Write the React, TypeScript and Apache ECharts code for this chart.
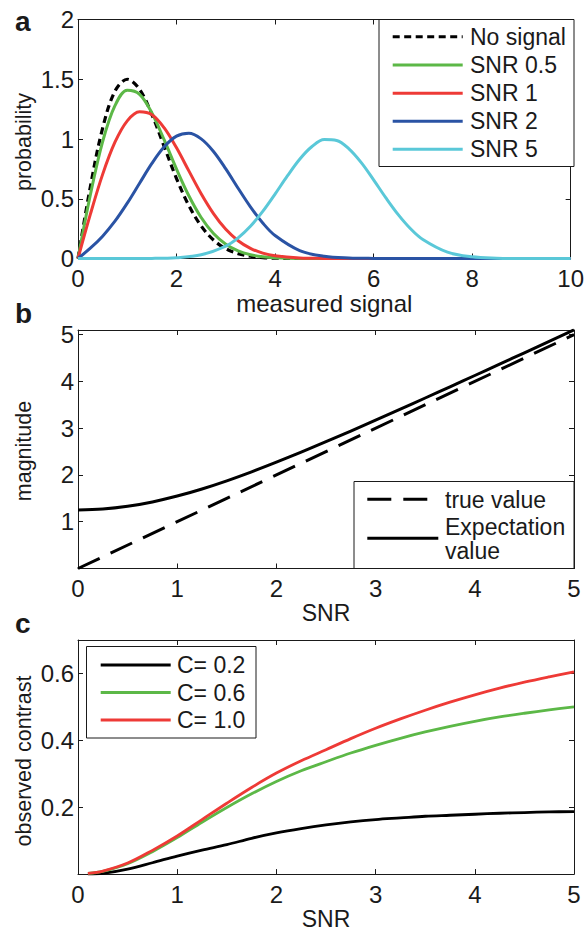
import React, { useEffect, useRef } from "react";
import * as echarts from "echarts";

// ---- Panel a: probability of the measured signal for several SNRs ----
const SIGNAL_X = [0, 0.25, 0.5, 0.75, 1, 1.25, 1.5, 1.75, 2, 2.25, 2.5, 2.75, 3, 3.25, 3.5, 3.75, 4, 4.5, 5, 5.5, 6, 7, 8, 10];
const NO_SIGNAL = [0, 0.599, 1.091, 1.4, 1.5, 1.415, 1.204, 0.936, 0.669, 0.443, 0.272, 0.155, 0.082, 0.041, 0.019, 0.008, 0.003, 0, 0, 0, 0, 0, 0, 0];
const SNR_05 = [0, 0.531, 0.978, 1.279, 1.408, 1.374, 1.218, 0.992, 0.748, 0.525, 0.343, 0.209, 0.12, 0.064, 0.032, 0.015, 0.007, 0.001, 0, 0, 0, 0, 0, 0];
const SNR_1 = [0, 0.369, 0.704, 0.973, 1.152, 1.228, 1.203, 1.093, 0.926, 0.733, 0.542, 0.376, 0.244, 0.149, 0.085, 0.045, 0.023, 0.005, 0.001, 0, 0, 0, 0, 0];
const SNR_2 = [0, 0.086, 0.187, 0.312, 0.463, 0.63, 0.796, 0.935, 1.024, 1.048, 1.001, 0.896, 0.75, 0.588, 0.432, 0.297, 0.192, 0.066, 0.018, 0.004, 0.001, 0, 0, 0];
const SNR5_X = [0, 1, 1.5, 2, 2.5, 3, 3.25, 3.5, 3.75, 4, 4.25, 4.5, 4.75, 5, 5.25, 5.5, 5.75, 6, 6.25, 6.5, 6.75, 7, 7.5, 8, 8.5, 9, 10];
const SNR_5 = [0, 0.0002, 0.001, 0.007, 0.031, 0.104, 0.173, 0.27, 0.394, 0.539, 0.691, 0.831, 0.937, 0.995, 0.988, 0.917, 0.802, 0.658, 0.507, 0.367, 0.249, 0.159, 0.053, 0.014, 0.003, 0, 0];

// ---- Panel b: magnitude vs SNR ----
const MAG_X = [0, 0.25, 0.5, 0.75, 1, 1.25, 1.5, 1.75, 2, 2.25, 2.5, 2.75, 3, 3.25, 3.5, 3.75, 4, 4.25, 4.5, 4.75, 5];
const EXPECTATION = [1.253, 1.273, 1.33, 1.424, 1.549, 1.701, 1.875, 2.067, 2.273, 2.489, 2.711, 2.938, 3.171, 3.407, 3.646, 3.886, 4.127, 4.369, 4.613, 4.856, 5.101];
const TRUE_X = [0, 5];
const TRUE_VALUE = [0, 5];

// ---- Panel c: observed contrast vs SNR ----
const CONTRAST_X = [0.1, 0.25, 0.5, 0.75, 1, 1.25, 1.5, 1.75, 2, 2.25, 2.5, 2.75, 3, 3.25, 3.5, 3.75, 4, 4.25, 4.5, 4.75, 5];
const C_02 = [0, 0.002, 0.015, 0.034, 0.054, 0.072, 0.088, 0.107, 0.123, 0.136, 0.147, 0.156, 0.163, 0.168, 0.173, 0.176, 0.179, 0.182, 0.184, 0.186, 0.187];
const C_06 = [0.002, 0.008, 0.031, 0.067, 0.109, 0.155, 0.199, 0.24, 0.277, 0.309, 0.336, 0.362, 0.385, 0.406, 0.425, 0.442, 0.457, 0.47, 0.481, 0.491, 0.5];
const C_10 = [0.002, 0.009, 0.033, 0.071, 0.114, 0.163, 0.212, 0.259, 0.302, 0.339, 0.372, 0.405, 0.436, 0.464, 0.49, 0.514, 0.536, 0.556, 0.574, 0.59, 0.605];

const MAG_TICKS = [1, 2, 3, 4, 5];
const CONTRAST_TICKS = [0.2, 0.4, 0.6];

const FONT = '"Liberation Sans", Arial, Helvetica, sans-serif';
const INK = "#1a1a1a";
const GREEN = "#5cb847";
const RED = "#ee3a36";
const BLUE = "#2a53a4";
const CYAN = "#5ac8d8";

const pairs = (xs: number[], ys: number[]) => xs.map((x, i) => [x, ys[i]]);

const GRIDS = [
  { left: 78, top: 19.5, width: 496, height: 239 },
  { left: 78, top: 330, width: 496, height: 238.5 },
  { left: 78, top: 640, width: 496, height: 239 },
];

const axisLine = { show: true, onZero: false, lineStyle: { color: INK, width: 1 } };

function xPair(grid: number, min: number, max: number, interval: number, name: string, nameSize: number) {
  const tick = { show: true, inside: true, length: 5, lineStyle: { color: INK, width: 1 } };
  return [
    {
      type: "value", gridIndex: grid, position: "bottom", min, max, interval,
      axisLine, axisTick: tick, splitLine: { show: false },
      axisLabel: { show: true, fontSize: 24, color: INK, margin: 8, fontFamily: FONT },
      name, nameLocation: "middle", nameGap: 25.5,
      nameTextStyle: { fontSize: nameSize, color: INK, fontFamily: FONT },
    },
    {
      type: "value", gridIndex: grid, position: "top", min, max, interval,
      axisLine, axisTick: tick, splitLine: { show: false }, axisLabel: { show: false },
    },
  ];
}

function yPair(grid: number, min: number, max: number, interval: number, custom?: number[]) {
  const tick: any = { show: true, inside: true, length: 5, lineStyle: { color: INK, width: 1 } };
  const label: any = { show: true, fontSize: 24, color: INK, margin: 4, fontFamily: FONT };
  if (custom) {
    tick.customValues = custom;
    label.customValues = custom;
  }
  return [
    {
      type: "value", gridIndex: grid, position: "left", min, max, interval,
      axisLine, axisTick: tick, axisLabel: label, splitLine: { show: false },
    },
    {
      type: "value", gridIndex: grid, position: "right", min, max, interval,
      axisLine, axisTick: tick, axisLabel: { show: false }, splitLine: { show: false },
    },
  ];
}

function line(axis: number, name: string, data: number[][], color: string, width: number, type: any = "solid", z = 2) {
  return {
    type: "line", name, xAxisIndex: axis, yAxisIndex: axis, data,
    symbol: "none", showSymbol: false, smooth: 0.35,
    silent: true, clip: true, z,
    lineStyle: { color, width, type, cap: "butt", join: "round" },
  };
}

function legendLine(x1: number, x2: number, y: number, color: string, dash?: number[]) {
  return {
    type: "line", z: 101,
    shape: { x1, y1: y, x2, y2: y },
    style: { stroke: color, lineWidth: 3, lineDash: dash, lineCap: "butt" },
  };
}

function legendText(x: number, y: number, text: string) {
  return {
    type: "text", z: 101,
    style: { x, y, text, fill: INK, fontSize: 23, fontFamily: FONT, verticalAlign: "middle", align: "left" },
  };
}

function legendBox(x: number, y: number, width: number, height: number) {
  return {
    type: "rect", z: 100,
    shape: { x, y, width, height },
    style: { fill: "#fff", stroke: INK, lineWidth: 1 },
  };
}

function panelLetter(y: number, text: string) {
  return {
    type: "text", z: 101,
    style: { x: 15, y, text, fill: INK, fontSize: 28, fontWeight: "bold", fontFamily: FONT, verticalAlign: "middle" },
  };
}

// vertical axis title, reading bottom to top
function yTitle(y: number, text: string) {
  return {
    type: "text", z: 101, x: 24, y, rotation: Math.PI / 2,
    style: { x: 0, y: 0, text, fill: INK, fontSize: 21.5, fontFamily: FONT, align: "center", verticalAlign: "middle" },
  };
}

const A_DOT = [7, 4.5];
const B_DASH = [24, 12];

const option = {
  animation: false,
  backgroundColor: "#fff",
  textStyle: { fontFamily: FONT },
  grid: GRIDS,
  xAxis: [
    ...xPair(0, 0, 10, 2, "measured signal", 24),
    ...xPair(1, 0, 5, 1, "SNR", 23),
    ...xPair(2, 0, 5, 1, "SNR", 23),
  ],
  yAxis: [
    ...yPair(0, 0, 2, 0.5),
    ...yPair(1, 0, 5.1, 1, MAG_TICKS),
    ...yPair(2, 0, 0.7, 0.1, CONTRAST_TICKS),
  ],
  series: [
    line(0, "No signal", pairs(SIGNAL_X, NO_SIGNAL), "#000", 3.2, A_DOT),
    line(0, "SNR 0.5", pairs(SIGNAL_X, SNR_05), GREEN, 3),
    line(0, "SNR 1", pairs(SIGNAL_X, SNR_1), RED, 3),
    line(0, "SNR 2", pairs(SIGNAL_X, SNR_2), BLUE, 3),
    line(0, "SNR 5", pairs(SNR5_X, SNR_5), CYAN, 3),
    line(2, "true value", pairs(TRUE_X, TRUE_VALUE), "#000", 3, B_DASH),
    line(2, "Expectation value", pairs(MAG_X, EXPECTATION), "#000", 3),
    line(4, "C= 0.2", pairs(CONTRAST_X, C_02), "#000", 2.8),
    line(4, "C= 0.6", pairs(CONTRAST_X, C_06), GREEN, 2.8),
    line(4, "C= 1.0", pairs(CONTRAST_X, C_10), RED, 2.8),
  ],
  graphic: [
    panelLetter(21, "a"),
    panelLetter(313.6, "b"),
    panelLetter(623.6, "c"),

    yTitle(142, "probability"),
    yTitle(451, "magnitude"),
    yTitle(761, "observed contrast"),

    legendBox(379, 19.5, 195, 147),
    legendLine(392.7, 462.7, 36.7, "#000", A_DOT),
    legendText(470, 36.7, "No signal"),
    legendLine(392.7, 462.7, 65, GREEN),
    legendText(470, 65, "SNR 0.5"),
    legendLine(392.7, 462.7, 93.2, RED),
    legendText(470, 93.2, "SNR 1"),
    legendLine(392.7, 462.7, 121.2, BLUE),
    legendText(470, 121.2, "SNR 2"),
    legendLine(392.7, 462.7, 149.2, CYAN),
    legendText(470, 149.2, "SNR 5"),

    legendBox(354, 481.5, 220, 87),
    legendLine(367.3, 437, 499.3, "#000", B_DASH),
    legendText(445, 499.5, "true value"),
    legendLine(367.3, 438.3, 538.3, "#000"),
    legendText(445, 527, "Expectation"),
    legendText(445, 550.5, "value"),

    legendBox(86.5, 646.5, 169.5, 91.5),
    legendLine(100.7, 170.7, 665, "#000"),
    legendText(177, 665, "C= 0.2"),
    legendLine(100.7, 170.7, 692.5, GREEN),
    legendText(177, 692.5, "C= 0.6"),
    legendLine(100.7, 170.7, 720, RED),
    legendText(177, 720, "C= 1.0"),
  ],
};

export default function App() {
  const ref = useRef<HTMLDivElement>(null);
  useEffect(() => {
    if (!ref.current) return;
    const chart = echarts.init(ref.current, null, { renderer: "svg" });
    chart.setOption(option as any);
    return () => chart.dispose();
  }, []);
  return (
    <div
      ref={ref}
      style={{ position: "absolute", left: 0, top: 0, width: 587, height: 931, background: "#fff" }}
    />
  );
}
